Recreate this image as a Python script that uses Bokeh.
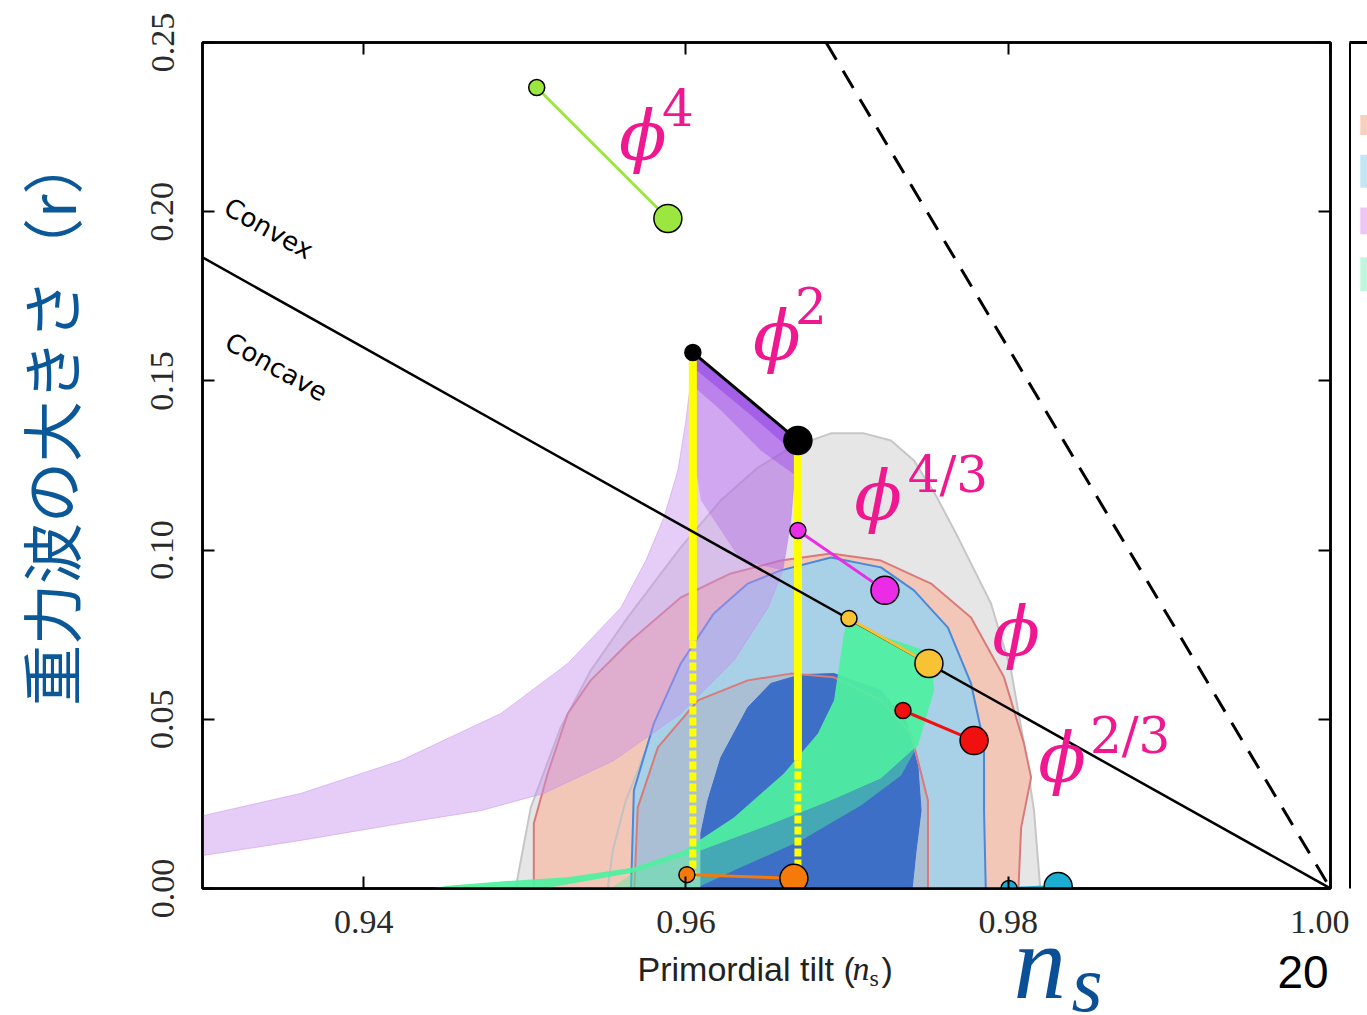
import math
from bokeh.plotting import figure
from bokeh.models import Label, LinearAxis, FixedTicker, PrintfTickFormatter, Range1d, ColumnDataSource
from bokeh.layouts import row, column
from bokeh.embed import file_html
from bokeh.resources import INLINE

# ---------------- data ----------------
x_ticks = [0.94, 0.96, 0.98, 1.00]
y_ticks = [0.00, 0.05, 0.10, 0.15, 0.20, 0.25]

gray_outer_ns = [0.94931, 0.95037, 0.95223, 0.95409, 0.95639, 0.95968, 0.96217, 0.96447, 0.96651, 0.96900,
                 0.97105, 0.97272, 0.97415, 0.97552, 0.97689, 0.97893, 0.98018, 0.98098, 0.98160, 0.98204]
gray_outer_r = [-0.003, 0.0239, 0.0476, 0.0644, 0.0801, 0.1008, 0.1147, 0.1244, 0.1303, 0.1345,
                0.1345, 0.1324, 0.1265, 0.1161, 0.1037, 0.0842, 0.0644, 0.0428, 0.0230, -0.003]

gray_inner_ns = [0.95515, 0.95546, 0.95627, 0.95751, 0.95937, 0.96155, 0.96465, 0.96900, 0.97241, 0.97428, 0.97540, 0.97602]
gray_inner_r = [0.0, 0.0112, 0.0260, 0.0408, 0.0541, 0.0629, 0.0674, 0.0674, 0.0621, 0.0511, 0.0328, 0.0]

red_outer_ns = [0.95056, 0.95056, 0.95142, 0.95267, 0.95409, 0.95658, 0.95968, 0.96279, 0.96589, 0.96900,
                0.97210, 0.97521, 0.97769, 0.97974, 0.98098, 0.98142, 0.98080, 0.98061]
red_outer_r = [-0.003, 0.0192, 0.0340, 0.0517, 0.0615, 0.0733, 0.0860, 0.0931, 0.0969, 0.0990,
               0.0969, 0.0901, 0.0801, 0.0624, 0.0428, 0.0328, 0.0180, -0.003]

blue_outer_ns = [0.95658, 0.95677, 0.95801, 0.95968, 0.96173, 0.96384, 0.96589, 0.96900, 0.97210, 0.97415,
                 0.97626, 0.97769, 0.97850, 0.97850, 0.97862]
blue_outer_r = [-0.003, 0.0290, 0.0488, 0.0665, 0.0813, 0.0901, 0.0940, 0.0978, 0.0949, 0.0881,
                0.0771, 0.0606, 0.0428, 0.0230, -0.003]

red_inner_ns = [0.95677, 0.95701, 0.95826, 0.96074, 0.96384, 0.96651, 0.96919, 0.97210, 0.97397, 0.97502, 0.97502]
red_inner_r = [-0.003, 0.0239, 0.0417, 0.0556, 0.0615, 0.0635, 0.0624, 0.0556, 0.0458, 0.0260, -0.003]

blue_inner_ns = [0.96093, 0.96093, 0.96136, 0.96217, 0.96384, 0.96527, 0.96714, 0.96919, 0.97210, 0.97366,
                 0.97440, 0.97459, 0.97428, 0.97397]
blue_inner_r = [-0.003, 0.0163, 0.0260, 0.0387, 0.0535, 0.0606, 0.0632, 0.0635, 0.0585, 0.0496,
                0.0358, 0.0230, 0.0112, -0.003]

purple_ns = [0.929, 0.93609, 0.94230, 0.94851, 0.95267, 0.95596, 0.95751, 0.95863, 0.95950, 0.96000,
             0.96030, 0.96043, 0.96695, 0.96683, 0.96651, 0.96602, 0.96509, 0.96298, 0.95968, 0.95552,
             0.95118, 0.94726, 0.94230, 0.93609, 0.929]
purple_r = [0.0204, 0.0281, 0.0378, 0.0517, 0.0665, 0.0830, 0.0969, 0.1096, 0.1235, 0.1383,
            0.1501, 0.1584, 0.1324, 0.1274, 0.1087, 0.0940, 0.0830, 0.0674, 0.0517, 0.0378,
            0.0281, 0.0230, 0.0192, 0.0142, 0.0090]
purple_mid_ns = [0.96043, 0.96695, 0.96651, 0.96602, 0.96341, 0.96093, 0.96043]
purple_mid_r = [0.1584, 0.1324, 0.1087, 0.0940, 0.0969, 0.1147, 0.1294]
purple_dark_ns = [0.96043, 0.96695, 0.96683, 0.96465, 0.96217, 0.96043]
purple_dark_r = [0.1584, 0.1324, 0.1220, 0.1294, 0.1413, 0.1486]
purple_darkest_ns = [0.96043, 0.96695, 0.96689, 0.96400, 0.96043]
purple_darkest_r = [0.1584, 0.1324, 0.1280, 0.1400, 0.1540]

green_ns = [0.94105, 0.94540, 0.94851, 0.95267, 0.95677, 0.95987, 0.96298, 0.96608, 0.96819, 0.96919,
            0.96981, 0.97005, 0.97210, 0.97521, 0.97540, 0.97440, 0.97210, 0.96900, 0.96509, 0.96093,
            0.95677, 0.95223, 0.94851]
green_r = [-0.002, 0.0009, 0.0021, 0.0033, 0.0062, 0.0112, 0.0210, 0.0340, 0.0458, 0.0556,
           0.0754, 0.0792, 0.0748, 0.0697, 0.0585, 0.0423, 0.0325, 0.0260, 0.0186, 0.0112,
           0.0047, 0.0009, -0.002]
green_faint_ns = [0.97440, 0.97210, 0.96900, 0.96509, 0.96093, 0.95677, 0.95472, 0.95968, 0.96298, 0.96714, 0.97086, 0.97335]
green_faint_r = [0.0423, 0.0325, 0.0260, 0.0186, 0.0112, 0.0047, -0.002, -0.002, 0.0053, 0.0142, 0.0245, 0.0334]

boundary_ns = [0.93, 1.00]
boundary_r = [0.1865, 0.0]
dashed_ns = [0.9687, 1.00]
dashed_r = [0.25, 0.0]

yellow_ns = [0.96043, 0.96695]
yellow_top = [0.1584, 0.1324]
yellow_mid = [0.0733, 0.0378]
yellow_bottom = [0.003, 0.003]

model_colors = ["#9be63f", "#000000", "#ea2ce6", "#f7c233", "#f01010", "#f57a0a", "#1aaed2"]
ns_N50 = [0.95074, 0.96043, 0.96695, 0.97012, 0.97347, 0.96006, 0.98005]
r_N50 = [0.2367, 0.1584, 0.1058, 0.0798, 0.0526, 0.0041, 0.0]
ns_N60 = [0.95888, 0.96695, 0.97235, 0.97508, 0.97788, 0.96670, 0.98310]
r_N60 = [0.1980, 0.1324, 0.0881, 0.0665, 0.0437, 0.0030, 0.0006]

# neighbouring panel legend swatches (partly visible at the right edge)
swatch_colors = ["#f6c6ae", "#b4e0f2", "#eab8f4", "#b0f4d4"]
swatch_top = [110, 150, 203, 253]
swatch_bottom = [130, 183, 230, 287]

PINK = "#f01890"
BLUE_TXT = "#0b5899"

# ---------------- main figure ----------------
p = figure(width=1349, height=948, x_range=Range1d(0.93, 1.0), y_range=Range1d(0.0, 0.25),
           output_backend="svg", toolbar_location=None,
           min_border_left=202, min_border_right=19, min_border_top=42, min_border_bottom=60)
p.grid.visible = False
p.outline_line_color = "black"
p.outline_line_width = 2.5
p.background_fill_color = "white"
p.border_fill_color = "white"


def style(ax, ticks, show_labels):
    ax.ticker = FixedTicker(ticks=ticks)
    ax.axis_line_color = "black"
    ax.axis_line_width = 2.5
    ax.major_tick_in = 12
    ax.major_tick_out = 0
    ax.major_tick_line_color = "black"
    ax.major_tick_line_width = 2
    ax.minor_tick_line_color = None
    if show_labels:
        ax.formatter = PrintfTickFormatter(format="%.2f")
        ax.major_label_text_font = "Liberation Serif"
        ax.major_label_text_font_size = "34px"
        ax.major_label_text_color = "#2a2a2a"
    else:
        ax.major_label_text_font_size = "1px"
        ax.major_label_text_color = None
        ax.major_label_standoff = 0


style(p.xaxis[0], x_ticks, True)
p.xaxis[0].major_label_standoff = 22
style(p.yaxis[0], y_ticks, True)
p.yaxis[0].major_label_standoff = 29
p.yaxis[0].major_label_orientation = "parallel"
p.yaxis[0].axis_label = "\u3000\u2002重力波の大きさ（r）"
p.yaxis[0].axis_label_text_font = "Noto Sans CJK JP"
p.yaxis[0].axis_label_text_font_size = "61px"
p.yaxis[0].axis_label_text_font_style = "normal"
p.yaxis[0].axis_label_text_color = BLUE_TXT
p.yaxis[0].axis_label_standoff = 55
top_ax = LinearAxis()
style(top_ax, x_ticks, False)
p.add_layout(top_ax, "above")
right_ax = LinearAxis()
style(right_ax, y_ticks, False)
p.add_layout(right_ax, "right")

# contours
p.patch(gray_outer_ns, gray_outer_r, fill_color="#e6e6e6", line_color="#c6c6c6", line_width=2)
p.patch(red_outer_ns, red_outer_r, fill_color="#f3c7b7", line_color="#d97a7a", line_width=2)
p.line(gray_inner_ns, gray_inner_r, line_color="#c2c2c2", line_width=2)
p.patch(blue_outer_ns, blue_outer_r, fill_color="#a8d0e6", line_color="#4a88d8", line_width=2)
p.patch(red_inner_ns, red_inner_r, fill_color="#b0a0b0", fill_alpha=0.35, line_color=None)
p.patch(blue_inner_ns, blue_inner_r, fill_color="#3d6fc6", line_color="#3a6ccc", line_width=1)
p.line(red_inner_ns, red_inner_r, line_color="#d97a7a", line_width=2)

# purple band (shaded towards the phi^2 segment)
p.patch(purple_ns, purple_r, fill_color="#c890ee", fill_alpha=0.45, line_color="#c890ee", line_alpha=0.5, line_width=1)
p.patch(purple_mid_ns, purple_mid_r, fill_color="#a050e0", fill_alpha=0.30, line_color=None)
p.patch(purple_dark_ns, purple_dark_r, fill_color="#8a30e0", fill_alpha=0.30, line_color=None)
p.patch(purple_darkest_ns, purple_darkest_r, fill_color="#7a1fe0", fill_alpha=0.35, line_color=None)

# green band
p.patch(green_faint_ns, green_faint_r, fill_color="#4ff0a0", fill_alpha=0.45, line_color=None)
p.patch(green_ns, green_r, fill_color="#4ff0a0", fill_alpha=0.93, line_color=None)

# yellow vertical lines
ysrc = ColumnDataSource(dict(x=yellow_ns, top=yellow_top, mid=yellow_mid, bot=yellow_bottom))
p.segment(x0="x", y0="top", x1="x", y1="mid", source=ysrc, line_color="#ffff00", line_width=8)
p.segment(x0="x", y0="mid", x1="x", y1="bot", source=ysrc, line_color="#ffff00", line_width=7, line_dash="8 3")

# boundary lines
p.line(boundary_ns, boundary_r, line_color="black", line_width=2.5)
p.line(dashed_ns, dashed_r, line_color="black", line_width=3, line_dash="20 13")

# model predictions
msrc = ColumnDataSource(dict(x0=ns_N50, y0=r_N50, x1=ns_N60, y1=r_N60, c=model_colors))
p.segment(x0="x0", y0="y0", x1="x1", y1="y1", source=msrc, line_color="c", line_width=3)
p.scatter(x="x0", y="y0", source=msrc, size=16, fill_color="c", line_color="black", line_width=1.5)
p.scatter(x="x1", y="y1", source=msrc, size=28, fill_color="c", line_color="black", line_width=1.5)


def lab(fig, x, y, text, font, size, color, style="normal", align="center", baseline="middle", angle=0.0):
    fig.add_layout(Label(x=x, y=y, text=text, text_font=font, text_font_size=size, text_color=color,
                         text_font_style=style, text_align=align, text_baseline=baseline, angle=angle))


lab(p, 0.93149, 0.2020, "Convex", "DejaVu Sans", "26px", "black", align="left", baseline="alphabetic", angle=-0.51)
lab(p, 0.93155, 0.1622, "Concave", "DejaVu Sans", "26px", "black", align="left", baseline="alphabetic", angle=-0.51)

lab(p, 0.95732, 0.2225, "\u03d5", "DejaVu Serif", "70px", PINK, style="italic")
lab(p, 0.95950, 0.2308, "4", "DejaVu Serif", "50px", PINK)
lab(p, 0.96565, 0.1634, "\u03d5", "DejaVu Serif", "70px", PINK, style="italic")
lab(p, 0.96776, 0.1723, "2", "DejaVu Serif", "50px", PINK)
lab(p, 0.97192, 0.1159, "\u03d5", "DejaVu Serif", "70px", PINK, style="italic")
lab(p, 0.97626, 0.1223, "4/3", "DejaVu Serif", "50px", PINK)
lab(p, 0.98049, 0.0757, "\u03d5", "DejaVu Serif", "70px", PINK, style="italic")
lab(p, 0.98334, 0.0387, "\u03d5", "DejaVu Serif", "70px", PINK, style="italic")
lab(p, 0.98757, 0.0452, "2/3", "DejaVu Serif", "50px", PINK)

# ---------------- right neighbour panel (edge only) ----------------
p2 = figure(width=18, height=948, x_range=Range1d(0, 1), y_range=Range1d(888, 37),
            output_backend="svg", toolbar_location=None,
            min_border_left=0, min_border_right=0, min_border_top=37, min_border_bottom=60,
            x_axis_location="above", y_axis_location="left")
p2.grid.visible = False
p2.outline_line_color = None
for ax in p2.axis:
    ax.ticker = FixedTicker(ticks=[])
    ax.major_label_text_font_size = "1px"
    ax.major_label_text_color = None
    ax.major_label_standoff = 0
    ax.major_tick_line_color = None
    ax.minor_tick_line_color = None
    ax.axis_line_color = "black"
    ax.axis_line_width = 3
p2.quad(left=0.6, right=1.0, top=swatch_top, bottom=swatch_bottom, fill_color=swatch_colors,
        fill_alpha=0.8, line_color=None)

# ---------------- bottom strip: axis title and slide texts ----------------
pb = figure(width=1367, height=67, x_range=Range1d(0, 1367), y_range=Range1d(1015, 948),
            output_backend="svg", toolbar_location=None,
            min_border_left=0, min_border_right=0, min_border_top=0, min_border_bottom=0,
            x_axis_location=None, y_axis_location=None)
pb.grid.visible = False
pb.outline_line_color = None
lab(pb, 637, 968, "Primordial tilt (", "Liberation Sans", "34px", "#222222", align="left", baseline="alphabetic")
lab(pb, 852, 968, "n", "Liberation Serif", "34px", "#222222", style="italic", align="left", baseline="alphabetic")
lab(pb, 869, 977, "s", "Liberation Serif", "24px", "#222222", align="left", baseline="alphabetic")
lab(pb, 881, 968, ")", "Liberation Sans", "34px", "#222222", align="left", baseline="alphabetic")
lab(pb, 1013, 962, "n", "Liberation Serif", "105px", "#0b4f96", style="italic", align="left", baseline="alphabetic")
lab(pb, 1071, 983, "s", "Liberation Serif", "80px", "#0b4f96", style="italic", align="left", baseline="alphabetic")
lab(pb, 1277, 971, "20", "Liberation Sans", "46px", "black", align="left", baseline="alphabetic")

layout = column(row(p, p2), pb)
open("out.html", "w").write(file_html(layout, INLINE))
